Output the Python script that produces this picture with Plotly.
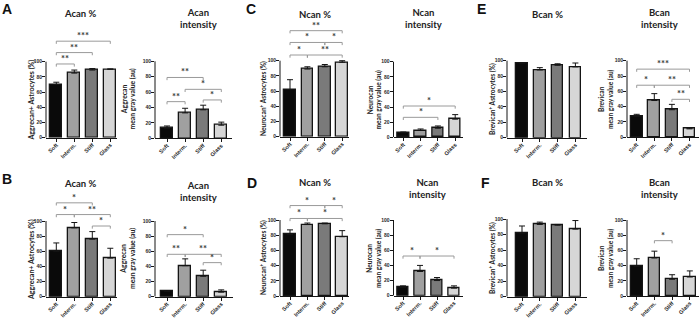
import plotly.graph_objects as go

categories = ["Soft", "Interm.", "Stiff", "Glass"]

# ---- Row 1 (A, C, E) ----
acan_pct_A = [70, 85, 89, 90]
acan_pct_A_err = [3, 4, 2, 0.5]
acan_int_A = [13, 33, 37, 17]
acan_int_A_err = [3, 6, 6, 4]
ncan_pct_C = [62, 89, 92, 98]
ncan_pct_C_err = [13, 3, 3, 2]
ncan_int_C = [6, 9, 12, 24]
ncan_int_C_err = [1, 2, 3, 6]
bcan_pct_E = [97, 88, 94, 92]
bcan_pct_E_err = [0, 3, 2, 5]
bcan_int_E = [27, 48, 36, 11]
bcan_int_E_err = [3, 9, 7, 1]

# ---- Row 2 (B, D, F) ----
acan_pct_B = [60, 91, 76, 51]
acan_pct_B_err = [11, 7, 10, 13]
acan_int_B = [7, 41, 27, 6]
acan_int_B_err = [1, 9, 8, 3]
ncan_pct_D = [81, 94, 95, 78]
ncan_pct_D_err = [6, 2, 1, 8]
ncan_int_D = [11, 32, 20, 10]
ncan_int_D_err = [2, 8, 4, 3]
bcan_pct_F = [82, 93, 92, 87]
bcan_pct_F_err = [9, 3, 1, 11]
bcan_int_F = [39, 50, 22, 25]
bcan_int_F_err = [10, 9, 6, 8]

# ---- significance brackets: (from, to, level, label) ----
sig_A_pct = [(0, 1, 97, "**"), (0, 2, 112, "**"), (0, 3, 127, "***")]
sig_A_int = [(0, 1, 47.6, "**"), (2, 3, 49.8, "*"), (1, 3, 63.6, "*"), (0, 2, 79, "**")]
sig_C_pct = [(0, 1, 107.5, "*"), (1, 3, 107.5, "**"), (0, 2, 124, "*"), (2, 3, 124, "*"), (0, 3, 139.5, "**")]
sig_C_int = [(0, 2, 26.4, "*"), (0, 3, 41.4, "*")]
sig_E_pct = []
sig_E_int = [(2, 3, 49.6, "**"), (0, 1, 68, "*"), (1, 3, 68, "**"), (0, 3, 89, "***")]
sig_B_pct = [(2, 3, 93.4, "*"), (0, 1, 108.5, "*"), (1, 3, 108.5, "**"), (0, 2, 124, "*")]
sig_B_int = [(2, 3, 45, "*"), (0, 1, 56, "**"), (1, 3, 56, "**"), (0, 2, 82, "*")]
sig_D_pct = [(0, 1, 102, "*"), (1, 3, 102, "*"), (0, 2, 119, "*"), (2, 3, 119, "*")]
sig_D_int = [(0, 1, 52.4, "*"), (1, 3, 52.4, "*")]
sig_F_pct = []
sig_F_int = [(1, 2, 72.8, "*")]

y_ticks = [0, 20, 40, 60, 80, 100]

panels = [
    (acan_pct_A, acan_pct_A_err, sig_A_pct),
    (acan_int_A, acan_int_A_err, sig_A_int),
    (ncan_pct_C, ncan_pct_C_err, sig_C_pct),
    (ncan_int_C, ncan_int_C_err, sig_C_int),
    (bcan_pct_E, bcan_pct_E_err, sig_E_pct),
    (bcan_int_E, bcan_int_E_err, sig_E_int),
    (acan_pct_B, acan_pct_B_err, sig_B_pct),
    (acan_int_B, acan_int_B_err, sig_B_int),
    (ncan_pct_D, ncan_pct_D_err, sig_D_pct),
    (ncan_int_D, ncan_int_D_err, sig_D_int),
    (bcan_pct_F, bcan_pct_F_err, sig_F_pct),
    (bcan_int_F, bcan_int_F_err, sig_F_int),
]

# geometry in pixels: axis left, first bar centre, bar spacing, axis right, y(0), y(100)
geom = [
    (46.0, 56.3, 18.0, 117.0, 137.7, 61.7),
    (155.0, 167.0, 18.1, 232.0, 138.3, 61.3),
    (280.0, 290.0, 17.4, 349.0, 136.7, 60.7),
    (393.5, 403.3, 17.3, 463.0, 137.3, 61.7),
    (507.0, 522.0, 17.8, 587.0, 137.7, 60.7),
    (627.0, 636.7, 17.6, 699.0, 137.3, 60.7),
    (46.0, 56.3, 18.0, 117.3, 296.7, 221.0),
    (155.0, 167.2, 18.0, 233.0, 296.7, 221.0),
    (280.0, 290.0, 17.4, 349.0, 296.0, 220.0),
    (393.5, 403.0, 17.0, 463.0, 295.7, 220.0),
    (507.0, 522.0, 17.8, 587.0, 296.7, 219.0),
    (627.0, 636.7, 17.7, 699.0, 296.0, 220.0),
]

W, H = 700, 318
YTOP = 150
FONT = "Lato"
TICKFONT = "Liberation Sans"
bar_colors = ["#0a0a0a", "#a0a0a0", "#7a7a7a", "#d6d6d6"]

fig = go.Figure()
layout = {}
shapes = []
annotations = []

for k, ((vals, errs, sigs), (xl, c0, sp, xr, y0, y100)) in enumerate(zip(panels, geom), start=1):
    ax = "" if k == 1 else str(k)
    xa, ya = "x" + ax, "y" + ax
    fig.add_trace(go.Bar(
        x=list(range(len(categories))), y=vals, xaxis=xa, yaxis=ya,
        width=0.66,
        marker=dict(color=bar_colors, line=dict(color="#151515", width=1.3)),
        error_y=dict(type="data", symmetric=False, array=errs, arrayminus=[0] * len(errs),
                     color="#151515", thickness=1, width=3),
        showlegend=False, hoverinfo="skip",
    ))
    per = (y0 - y100) / 100.0
    top_px = y0 - per * YTOP
    layout["xaxis" + ax] = dict(
        domain=[xl / W, xr / W], range=[(xl - c0) / sp, (xr - c0) / sp], anchor=ya,
        tickmode="array", tickvals=list(range(len(categories))), ticktext=categories,
        tickangle=-45, showline=True, linecolor="#151515", linewidth=1,
        ticks="outside", ticklen=3, tickwidth=1, tickcolor="#151515",
        showgrid=False, zeroline=False, fixedrange=True, automargin=False,
        ticklabelstandoff=-2,
        tickfont=dict(family=TICKFONT, size=5.6, color="#2a2a2a", weight="bold"),
    )
    layout["yaxis" + ax] = dict(
        domain=[1 - y0 / H, 1 - top_px / H], range=[0, YTOP], anchor=xa,
        tickmode="array", tickvals=y_ticks,
        ticks="outside", ticklen=3, tickwidth=1, tickcolor="#151515",
        showline=False, showgrid=False, zeroline=False, fixedrange=True, automargin=False,
        ticklabelstandoff=-1,
        tickfont=dict(family=TICKFONT, size=5, color="#2a2a2a", weight="bold"),
    )
    shapes.append(dict(type="line", xref=xa + " domain", yref=ya, x0=0, x1=0, y0=0, y1=100,
                       line=dict(color="#151515", width=1)))
    for (i, j, lvl, lab) in sigs:
        d = 3.5
        shapes.append(dict(
            type="path", xref=xa, yref=ya,
            path=f"M {i},{lvl - d} L {i},{lvl} L {j},{lvl} L {j},{lvl - d}",
            line=dict(color="#9a9a9a", width=1),
        ))
        annotations.append(dict(
            xref=xa, yref=ya, x=(i + j) / 2, y=lvl, text=lab, showarrow=False,
            xanchor="center", yanchor="bottom", yshift=-2,
            font=dict(family=FONT, size=9.5, color="#3a3a3a", weight="bold"),
        ))

# titles
titles = [
    ("Acan %", 80, 14), ("Acan<br>intensity", 198, 19),
    ("Ncan %", 315, 15), ("Ncan<br>intensity", 423, 19),
    ("Bcan %", 547, 15), ("Bcan<br>intensity", 659, 19),
    ("Acan %", 80, 183), ("Acan<br>intensity", 198, 191),
    ("Ncan %", 315, 182), ("Ncan<br>intensity", 427, 188),
    ("Bcan %", 547, 182), ("Bcan<br>intensity", 659, 188),
]
for t, x, y in titles:
    annotations.append(dict(xref="paper", yref="paper", x=x / W, y=1 - y / H, text=t,
                            showarrow=False, xanchor="center", yanchor="middle",
                            font=dict(family=FONT, size=9.5, color="#222222", weight="bold")))

letters = [("A", 7, 9), ("C", 251, 9), ("E", 481, 9), ("B", 7, 179), ("D", 252, 183), ("F", 485, 183)]
for t, x, y in letters:
    annotations.append(dict(xref="paper", yref="paper", x=x / W, y=1 - y / H, text=t,
                            showarrow=False, xanchor="center", yanchor="middle",
                            font=dict(family="Liberation Sans", size=14, color="#111111", weight="bold")))

ytitles = [
    ("Aggrecan+ Astrocytes (%)", 31, 99.5, 7.0),
    ("Aggrecan<br>mean gray value (au)", 128, 99.5, 6.8),
    ("Neurocan<sup>+</sup> Astrocytes (%)", 263, 99, 6.6),
    ("Neurocan<br>mean gray value (au)", 374, 99.5, 6.6),
    ("Brevican<sup>+</sup> Astrocytes (%)", 492, 99, 6.6),
    ("Brevican<br>mean gray value (au)", 606, 99, 6.6),
    ("Aggrecan+ Astrocytes (%)", 31, 259, 7.0),
    ("Aggrecan<br>mean gray value (au)", 128, 259, 6.8),
    ("Neurocan<sup>+</sup> Astrocytes (%)", 263, 258, 6.6),
    ("Neurocan<br>mean gray value (au)", 374, 258, 6.6),
    ("Brevican<sup>+</sup> Astrocytes (%)", 492, 258, 6.6),
    ("Brevican<br>mean gray value (au)", 606, 258, 6.6),
]
for t, x, y, s in ytitles:
    annotations.append(dict(xref="paper", yref="paper", x=x / W, y=1 - y / H, text=t,
                            showarrow=False, xanchor="center", yanchor="middle", textangle=-90,
                            font=dict(family=FONT, size=s, color="#222222", weight="bold")))

fig.update_layout(
    width=W, height=H, margin=dict(l=0, r=0, t=0, b=0, autoexpand=False),
    paper_bgcolor="white", plot_bgcolor="white",
    shapes=shapes, annotations=annotations, bargap=0,
    **layout,
)
fig.write_html("out.html", config={"displayModeBar": False},
               post_script="document.body.style.margin='0';document.body.style.overflow='hidden';")
